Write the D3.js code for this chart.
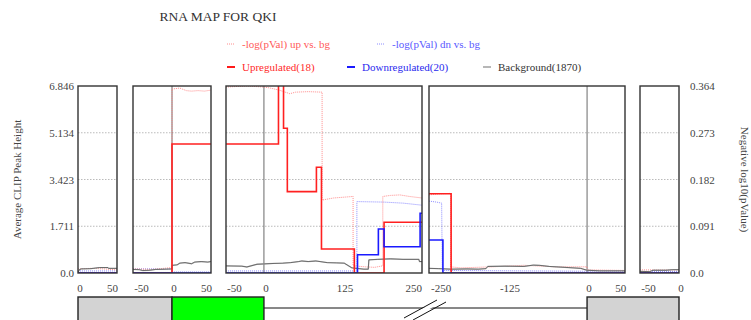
<!DOCTYPE html>
<html><head><meta charset="utf-8">
<script src="https://cdn.jsdelivr.net/npm/d3@7"></script>
<style>body{margin:0;background:#fff}svg{display:block}text{font-family:"Liberation Serif",serif}</style>
</head><body><svg id="c" width="751" height="320"></svg>
<script>
// ---- data ----
const title = "RNA MAP FOR QKI";
const panelDomains = [[0,60],[-60,60],[-60,250],[-250,60],[-60,0]];
const panelTicks = [[0,50],[-50,0,50],[-50,0,125,250],[-250,-125,0,50],[-50,0]];
const leftTicks = [0, 1.711, 3.423, 5.134, 6.846];
const rightTicks = [0, 0.091, 0.182, 0.273, 0.364];
const leftTitle = "Average CLIP Peak Height";
const rightTitle = "Negative log10(pValue)";
const legendLabels = ["-log(pVal) up vs. bg","-log(pVal) dn vs. bg","Upregulated(18)","Downregulated(20)","Background(1870)"];

// step series (left axis), per panel: [x, value]
const upregulated = [
  [[0,0],[60,0]],
  [[-60,0],[0,4.72],[60,4.72]],
  [[-60,4.72],[23,7.4],[31,5.3],[37,2.98],[83,3.87],[91,0.88],[143,0],[190,1.86],[250,1.86]],
  [[-250,2.9],[-215,0],[60,0]],
  [[-60,0],[0,0]]
];
const downregulated = [
  [[0,0],[60,0]],
  [[-60,0],[60,0]],
  [[-60,0],[148,0.67],[181,1.61],[190,0.96],[247,2.19],[250,2.19]],
  [[-250,1.21],[-228,0],[60,0]],
  [[-60,0],[0,0]]
];
// background (left axis), per panel
const background = [
  [[0,0.02],[2,0.12],[5,0.15],[20,0.16],[33,0.2],[46,0.2],[47,0.17],[60,0.17]],
  [[-60,0.13],[-50,0.12],[-45,0.09],[-35,0.1],[-25,0.13],[-10,0.14],[0,0.15],[0,0.28],[8,0.3],[12,0.36],[20,0.38],[30,0.34],[35,0.4],[45,0.42],[55,0.4],[60,0.42]],
  [[-60,0.26],[-35,0.25],[-27,0.22],[-11,0.32],[16,0.35],[30,0.36],[42,0.38],[55,0.42],[60,0.44],[70,0.42],[82,0.44],[100,0.38],[115,0.37],[127,0.36],[139,0.19],[150,0.16],[158,0.14],[165,0.14],[166,0.48],[180,0.5],[200,0.52],[220,0.5],[245,0.5],[246,0.42],[250,0.42]],
  [[-250,0.17],[-235,0.16],[-215,0.14],[-190,0.15],[-172,0.14],[-160,0.16],[-157,0.24],[-130,0.25],[-100,0.24],[-85,0.29],[-75,0.28],[-60,0.24],[-30,0.2],[-10,0.17],[0,0.1],[20,0.08],[60,0.08]],
  [[-60,0.06],[-45,0.05],[-40,0.1],[-20,0.1],[-10,0.12],[0,0.12]]
];
// p-value series (right axis), per panel
const pvalUp = [
  [[0,0.008],[20,0.009],[40,0.008],[60,0.006]],
  [[-60,0.008],[-30,0.007],[-5,0.01],[0,0.01],[0,0.358],[12,0.36],[22,0.355],[30,0.354],[40,0.355],[50,0.354],[60,0.356]],
  [[-60,0.362],[-27,0.364],[0,0.362],[10,0.36],[24,0.356],[41,0.349],[50,0.352],[70,0.353],[92,0.352],[92,0.142],[110,0.146],[141,0.149],[141,0.014],[160,0.012],[175,0.011],[188,0.014],[188,0.149],[200,0.151],[215,0.152],[230,0.149],[250,0.146]],
  [[-250,0.152],[-235,0.154],[-216,0.155],[-216,0.012],[-200,0.01],[-150,0.012],[-100,0.015],[-50,0.012],[0,0.012],[0,0.006],[60,0.005]],
  [[-60,0.006],[0,0.006]]
];
const pvalDn = [
  [[0,0.004],[60,0.004]],
  [[-60,0.008],[0,0.008],[0,0.002],[60,0.002]],
  [[-60,0.004],[147,0.004],[147,0.139],[190,0.138],[220,0.136],[250,0.132]],
  [[-250,0.14],[-238,0.138],[-230,0.136],[-229,0.005],[60,0.003]],
  [[-60,0.003],[0,0.003]]
];
// gene structure: [panelIndexStart, xStart, panelIndexEnd, xEnd, type]
const exons = [[0,0,1,0,"grey"],[1,0,2,0,"green"],[3,0,4,0,"grey"]];

// ---- layout ----
const svg = d3.select("#c");
const yTop = 86, yBot = 273;
const panelPx = [[78,117],[133,211],[226,422],[429,625],[640,679]];
const yL = d3.scaleLinear().domain([0, 6.846]).range([yBot, yTop]);
const yR = d3.scaleLinear().domain([0, 0.364]).range([yBot, yTop]);
const xs = panelDomains.map((d,i)=>d3.scaleLinear().domain(d).range(panelPx[i]));

svg.append("text").attr("x",218).attr("y",21).attr("text-anchor","middle")
  .attr("font-size",13.5).attr("fill","#333").text(title);

// panels
const defs = svg.append("defs");
xs.forEach((x,i)=>{
  const [a,b] = x.range();
  defs.append("clipPath").attr("id","clip"+i).append("rect")
    .attr("x",a).attr("y",yTop).attr("width",b-a).attr("height",yBot-yTop);
  const g = svg.append("g");
  // grid
  leftTicks.slice(1,-1).forEach(t=>{
    g.append("line").attr("x1",a).attr("x2",b).attr("y1",yL(t)).attr("y2",yL(t))
      .attr("stroke","#aaa").attr("stroke-width",0.8).attr("stroke-dasharray","1.5,1.5");
  });
  const pg = g.append("g").attr("clip-path",`url(#clip${i})`);
  // zero line
  const d = x.domain();
  if (d[0] < 0 && d[1] > 0) {
    pg.append("line").attr("x1",x(0)).attr("x2",x(0)).attr("y1",yTop).attr("y2",yBot)
      .attr("stroke","#444").attr("stroke-width",0.8);
  }
  const lineL = d3.line().x(p=>x(p[0])).y(p=>yL(p[1]));
  const lineR = d3.line().x(p=>x(p[0])).y(p=>yR(p[1]));
  const stepL = d3.line().x(p=>x(p[0])).y(p=>yL(p[1])).curve(d3.curveStepAfter);
  pg.append("path").attr("d",lineR(pvalDn[i])).attr("fill","none")
    .attr("stroke","#8080ff").attr("stroke-width",0.9).attr("stroke-dasharray","1,1");
  pg.append("path").attr("d",lineR(pvalUp[i])).attr("fill","none")
    .attr("stroke","#ff7f7f").attr("stroke-width",0.9).attr("stroke-dasharray","1,1");
  pg.append("path").attr("d",lineL(background[i])).attr("fill","none")
    .attr("stroke","#bbb").attr("stroke-width",1.3);
  pg.append("path").attr("d",lineL(background[i])).attr("fill","none")
    .attr("stroke","#333").attr("stroke-width",0.6);
  pg.append("path").attr("d",stepL(upregulated[i])).attr("fill","none")
    .attr("stroke","#ff2020").attr("stroke-width",1.6);
  pg.append("path").attr("d",stepL(downregulated[i])).attr("fill","none")
    .attr("stroke","#1a1aff").attr("stroke-width",1.6);
  // frame
  g.append("rect").attr("x",a).attr("y",yTop).attr("width",b-a).attr("height",yBot-yTop)
    .attr("fill","none").attr("stroke","#333").attr("stroke-width",1.4);
  // x tick labels
  panelTicks[i].forEach(t=>{
    let px = x(t) + 2, anchor = "middle";
    if (x(t) > b - 6 && t !== 0) { px = b; anchor = "end"; }
    if (x(t) < a + 6 && i===3) { px = a + 2; anchor = "start"; }
    g.append("text").attr("x",px).attr("y",292).attr("text-anchor",anchor)
      .attr("font-size",11).attr("fill","#444").text(t);
  });
});

// y axes labels
const fmt = v => v===0 ? "0.0" : String(v);
leftTicks.forEach(t=>{
  svg.append("text").attr("x",74).attr("y",yL(t)+4).attr("text-anchor","end")
    .attr("font-size",11).attr("fill","#444").text(fmt(t));
});
rightTicks.forEach(t=>{
  svg.append("text").attr("x",690).attr("y",yR(t)+4).attr("text-anchor","start")
    .attr("font-size",11).attr("fill","#444").text(fmt(t));
});
svg.append("text").attr("transform",`translate(21,${(yTop+yBot)/2}) rotate(-90)`)
  .attr("text-anchor","middle").attr("font-size",11).attr("fill","#444").text(leftTitle);
svg.append("text").attr("transform",`translate(741,${(yTop+yBot)/2}) rotate(90)`)
  .attr("text-anchor","middle").attr("font-size",11).attr("fill","#444").text(rightTitle);

// legend
const legend = [
  {x:227,y:44,color:"#ff7f7f",dash:"1,1",w:0.9,text:legendLabels[0],tc:"#ff5a5a"},
  {x:377,y:44,color:"#8080ff",dash:"1,1",w:0.9,text:legendLabels[1],tc:"#5a5aff"},
  {x:227,y:67,color:"#ff1a1a",dash:null,w:2,text:legendLabels[2],tc:"#ff2a2a"},
  {x:347,y:67,color:"#1a1aff",dash:null,w:2,text:legendLabels[3],tc:"#2a2aee"},
  {x:483,y:67,color:"#999",dash:null,w:1.4,text:legendLabels[4],tc:"#333"}
];
legend.forEach(l=>{
  svg.append("line").attr("x1",l.x).attr("x2",l.x+8).attr("y1",l.y).attr("y2",l.y)
    .attr("stroke",l.color).attr("stroke-width",l.w).attr("stroke-dasharray",l.dash);
  svg.append("text").attr("x",l.x+15).attr("y",l.y+4).attr("font-size",11)
    .attr("fill",l.tc).text(l.text);
});

// gene diagram
const gy = 297, lineY = 308;
svg.append("line").attr("x1",xs[1](0)).attr("x2",xs[3](0)).attr("y1",lineY).attr("y2",lineY)
  .attr("stroke","#111").attr("stroke-width",1);
// break marks
svg.append("polygon").attr("points","405,318 438,300 446,300 413,318").attr("fill","#fff");
[[404,318,437,300],[413,320,446,302]].forEach(s=>{
  svg.append("line").attr("x1",s[0]).attr("y1",s[1]).attr("x2",s[2]).attr("y2",s[3])
    .attr("stroke","#111").attr("stroke-width",1);
});
exons.forEach(e=>{
  const x0 = xs[e[0]](e[1]), x1 = xs[e[2]](e[3]);
  svg.append("rect").attr("x",x0).attr("y",gy).attr("width",x1-x0).attr("height",30)
    .attr("fill",e[4]==="green"?"#00ff00":"#d3d3d3").attr("stroke","#222").attr("stroke-width",1.4);
});
</script></body></html>
